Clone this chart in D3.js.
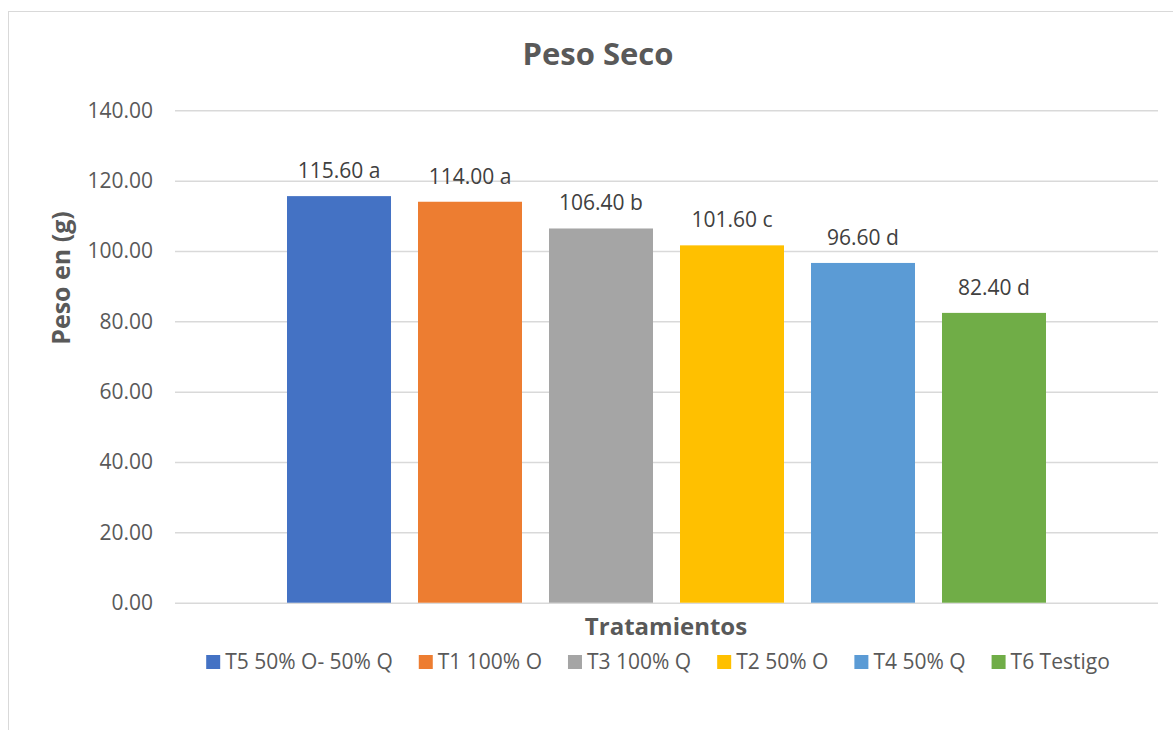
<!DOCTYPE html>
<html>
<head>
<meta charset="utf-8">
<script src="https://cdn.jsdelivr.net/npm/d3@7"></script>
<style>
  html, body { margin: 0; padding: 0; background: #fff; }
  svg { display: block; font-family: "Open Sans", sans-serif; }
</style>
</head>
<body>
<svg id="chart" width="1173" height="730"></svg>
<script>
const series = ["T5 50% O- 50% Q", "T1 100% O", "T3 100% Q", "T2 50% O", "T4 50% Q", "T6 Testigo"];
const values = [115.60, 114.00, 106.40, 101.60, 96.60, 82.40];
const letters = ["a", "a", "b", "c", "d", "d"];
const colors = ["#4472C4", "#ED7D31", "#A5A5A5", "#FFC000", "#5B9BD5", "#70AD47"];
const yTicks = [0, 20, 40, 60, 80, 100, 120, 140];
const title = "Peso Seco";
const xTitle = "Tratamientos";
const yTitle = "Peso en (g)";

const svg = d3.select("#chart");

// outer chart border
svg.append("rect")
  .attr("x", 8.5).attr("y", 11.5)
  .attr("width", 1200).attr("height", 760)
  .attr("fill", "#fff").attr("stroke", "#d9d9d9").attr("stroke-width", 1);

const plot = { left: 175, right: 1158, top: 110.3, bottom: 602.7 };

const x = d3.scaleBand()
  .domain(series)
  .range([plot.left, plot.right])
  .paddingInner(27 / 131)
  .paddingOuter(0.855);

const y = d3.scaleLinear().domain([0, 140]).range([plot.bottom, plot.top]);

// gridlines
const yAxis = d3.axisLeft(y)
  .tickValues(yTicks)
  .tickSize(-(plot.right - plot.left))
  .tickPadding(22)
  .tickFormat(d3.format(".2f"));

const gAxis = svg.append("g")
  .attr("transform", `translate(${plot.left},0)`)
  .call(yAxis);
gAxis.select(".domain").remove();
gAxis.selectAll(".tick line").attr("stroke", "#d9d9d9").attr("stroke-width", 1.5);
gAxis.selectAll(".tick text")
  .attr("fill", "#595959")
  .style("font-size", "21px")
  .style("font-family", "'Open Sans', sans-serif");

// bars
svg.append("g").selectAll("rect")
  .data(series)
  .join("rect")
  .attr("x", d => x(d))
  .attr("width", x.bandwidth())
  .attr("y", (d, i) => y(values[i]))
  .attr("height", (d, i) => y(0) - y(values[i]))
  .attr("fill", (d, i) => colors[i]);

// data labels
svg.append("g").selectAll("text")
  .data(series)
  .join("text")
  .attr("x", d => x(d) + x.bandwidth() / 2)
  .attr("y", (d, i) => y(values[i]) - 18)
  .attr("text-anchor", "middle")
  .attr("fill", "#404040")
  .style("font-size", "21px")
  .text((d, i) => values[i].toFixed(2) + " " + letters[i]);

// title
svg.append("text")
  .attr("x", 598).attr("y", 65)
  .attr("text-anchor", "middle")
  .attr("fill", "#595959")
  .style("font-size", "31px")
  .style("font-weight", "bold")
  .text(title);

// x axis title
svg.append("text")
  .attr("x", 666).attr("y", 635)
  .attr("text-anchor", "middle")
  .attr("fill", "#595959")
  .style("font-size", "24px")
  .style("font-weight", "bold")
  .text(xTitle);

// y axis title
svg.append("text")
  .attr("transform", "translate(70,278) rotate(-90)")
  .attr("text-anchor", "middle")
  .attr("fill", "#595959")
  .style("font-size", "25px")
  .style("font-weight", "bold")
  .text(yTitle);

// legend
const legend = svg.append("g");
const items = legend.selectAll("g")
  .data(series)
  .join("g");
items.append("rect")
  .attr("width", 14).attr("height", 14)
  .attr("y", 655)
  .attr("fill", (d, i) => colors[i]);
items.append("text")
  .attr("x", 19)
  .attr("y", 669)
  .attr("fill", "#595959")
  .style("font-size", "21px")
  .text(d => d);
let cursor = 0;
const offsets = [];
items.each(function () {
  const w = d3.select(this).select("text").node().getComputedTextLength();
  offsets.push(cursor);
  cursor += 19 + w + 26;
});
const totalW = cursor - 26;
const startX = 658 - totalW / 2;
items.attr("transform", (d, i) => `translate(${startX + offsets[i]},0)`);
</script>
</body>
</html>
